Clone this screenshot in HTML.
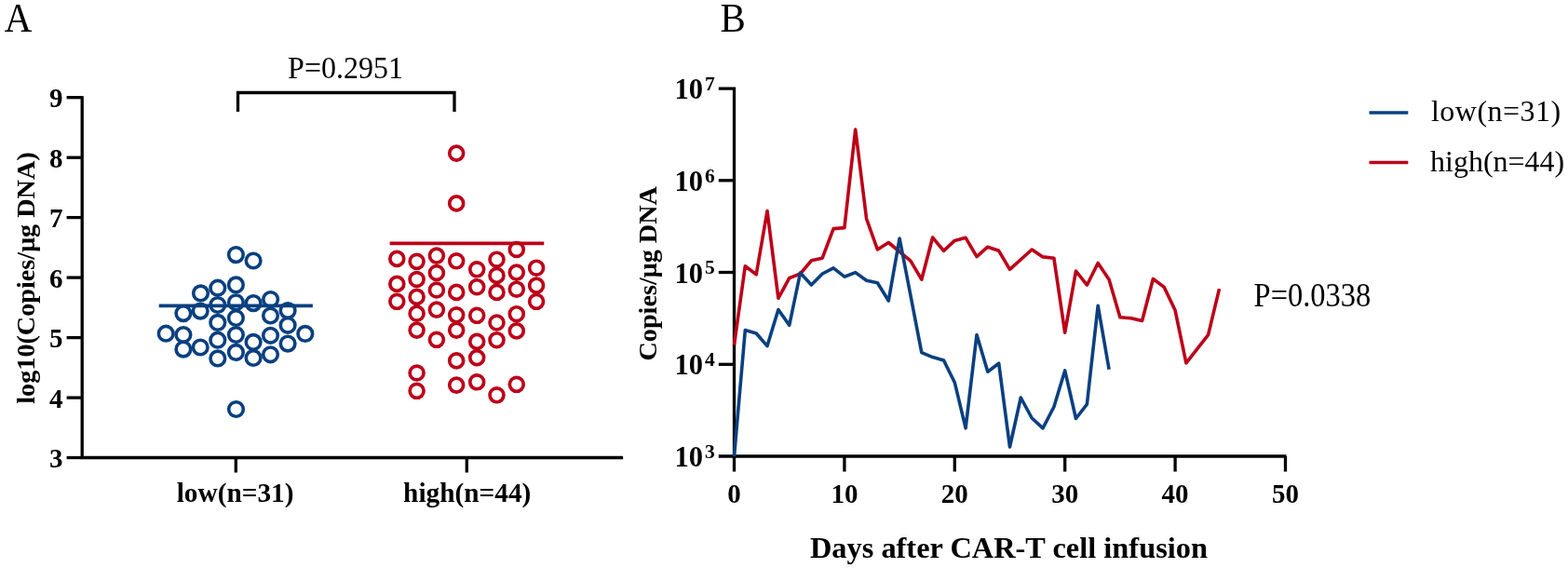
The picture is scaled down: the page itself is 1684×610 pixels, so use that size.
<!DOCTYPE html>
<html><head><meta charset="utf-8"><title>Figure</title>
<style>html,body{margin:0;padding:0;background:#fff;}svg{display:block;}text{font-family:"Liberation Serif","Times New Roman",serif;fill:#000;}.b{font-weight:bold;}</style></head><body>
<svg width="1684" height="610" viewBox="0 0 1684 610">
<rect width="1684" height="610" fill="#fff"/>
<text transform="translate(4.8,33.6) scale(1,1.08)" font-size="41">A</text>
<text transform="translate(773.4,33.6) scale(1,1.06)" font-size="41">B</text>
<g stroke="#000" stroke-width="3.3" fill="none" stroke-linecap="butt">
<path d="M88.2,103.2 V491.5 H669.1"/>
<path d="M71.6,104.7 H88.2"/>
<path d="M71.6,169.2 H88.2"/>
<path d="M71.6,233.6 H88.2"/>
<path d="M71.6,298.1 H88.2"/>
<path d="M71.6,362.6 H88.2"/>
<path d="M71.6,427.1 H88.2"/>
<path d="M71.6,491.5 H88.2"/>
<path d="M253.3,491.5 V507.5 M501.3,491.5 V507.5"/>
<path d="M255.5,120 V99.5 H488 V120"/>
</g>
<text class="b" x="67.5" y="115.2" font-size="29" text-anchor="end">9</text>
<text class="b" x="67.5" y="179.7" font-size="29" text-anchor="end">8</text>
<text class="b" x="67.5" y="244.1" font-size="29" text-anchor="end">7</text>
<text class="b" x="67.5" y="308.6" font-size="29" text-anchor="end">6</text>
<text class="b" x="67.5" y="373.1" font-size="29" text-anchor="end">5</text>
<text class="b" x="67.5" y="437.6" font-size="29" text-anchor="end">4</text>
<text class="b" x="67.5" y="502.0" font-size="29" text-anchor="end">3</text>
<text class="b" font-size="28.2" text-anchor="middle" transform="translate(36.5,298.5) rotate(-90)">log10(Copies/μg DNA)</text>
<text class="b" x="252.6" y="538.6" font-size="29.3" text-anchor="middle">low(n=31)</text>
<text class="b" x="501.7" y="538.6" font-size="29.3" text-anchor="middle">high(n=44)</text>
<text transform="translate(309.1,83.5) scale(1,1.07)" font-size="32">P=0.2951</text>
<path d="M170.7,328.3 H335.9" stroke="#0a4080" stroke-width="3.7"/>
<path d="M418.6,261.4 H584.3" stroke="#bc0019" stroke-width="3.7"/>
<g fill="none" stroke="#0a4080" stroke-width="3.6">
<circle cx="178.2" cy="358.2" r="7.8"/>
<circle cx="196.9" cy="336.6" r="7.8"/>
<circle cx="196.9" cy="359.5" r="7.8"/>
<circle cx="196.9" cy="375.1" r="7.8"/>
<circle cx="215.5" cy="314.9" r="7.8"/>
<circle cx="215.2" cy="334.1" r="7.8"/>
<circle cx="215.2" cy="373.0" r="7.8"/>
<circle cx="233.8" cy="309.2" r="7.8"/>
<circle cx="233.8" cy="327.5" r="7.8"/>
<circle cx="233.8" cy="346.4" r="7.8"/>
<circle cx="233.8" cy="365.2" r="7.8"/>
<circle cx="233.8" cy="384.9" r="7.8"/>
<circle cx="253.4" cy="273.6" r="7.8"/>
<circle cx="253.4" cy="305.9" r="7.8"/>
<circle cx="253.4" cy="324.8" r="7.8"/>
<circle cx="253.4" cy="341.5" r="7.8"/>
<circle cx="253.4" cy="359.5" r="7.8"/>
<circle cx="253.4" cy="378.4" r="7.8"/>
<circle cx="253.5" cy="439.5" r="7.8"/>
<circle cx="272.1" cy="280.0" r="7.8"/>
<circle cx="272.1" cy="325.6" r="7.8"/>
<circle cx="272.1" cy="367.4" r="7.8"/>
<circle cx="272.1" cy="384.4" r="7.8"/>
<circle cx="290.6" cy="321.5" r="7.8"/>
<circle cx="290.5" cy="339.0" r="7.8"/>
<circle cx="290.5" cy="360.3" r="7.8"/>
<circle cx="290.5" cy="380.8" r="7.8"/>
<circle cx="309.1" cy="333.6" r="7.8"/>
<circle cx="309.1" cy="349.3" r="7.8"/>
<circle cx="309.1" cy="369.1" r="7.8"/>
<circle cx="327.8" cy="358.4" r="7.8"/>
</g>
<g fill="none" stroke="#bc0019" stroke-width="3.7">
<circle cx="426.3" cy="277.9" r="7.45"/>
<circle cx="426.3" cy="304.9" r="7.45"/>
<circle cx="426.3" cy="323.8" r="7.45"/>
<circle cx="447.6" cy="280.8" r="7.45"/>
<circle cx="447.6" cy="300.0" r="7.45"/>
<circle cx="447.6" cy="318.9" r="7.45"/>
<circle cx="447.6" cy="336.7" r="7.45"/>
<circle cx="447.6" cy="354.6" r="7.45"/>
<circle cx="447.6" cy="400.5" r="7.45"/>
<circle cx="447.6" cy="419.8" r="7.45"/>
<circle cx="468.9" cy="274.6" r="7.45"/>
<circle cx="468.9" cy="293.0" r="7.45"/>
<circle cx="468.9" cy="311.5" r="7.45"/>
<circle cx="468.9" cy="332.6" r="7.45"/>
<circle cx="468.9" cy="364.8" r="7.45"/>
<circle cx="490.2" cy="164.6" r="7.45"/>
<circle cx="490.2" cy="218.4" r="7.45"/>
<circle cx="490.2" cy="280.3" r="7.45"/>
<circle cx="490.2" cy="313.9" r="7.45"/>
<circle cx="490.2" cy="338.3" r="7.45"/>
<circle cx="490.2" cy="354.6" r="7.45"/>
<circle cx="490.2" cy="387.4" r="7.45"/>
<circle cx="490.2" cy="413.6" r="7.45"/>
<circle cx="512.2" cy="289.3" r="7.45"/>
<circle cx="512.2" cy="308.2" r="7.45"/>
<circle cx="512.2" cy="338.8" r="7.45"/>
<circle cx="512.2" cy="366.9" r="7.45"/>
<circle cx="512.2" cy="384.1" r="7.45"/>
<circle cx="512.2" cy="410.3" r="7.45"/>
<circle cx="533.5" cy="278.7" r="7.45"/>
<circle cx="533.5" cy="295.9" r="7.45"/>
<circle cx="533.5" cy="313.9" r="7.45"/>
<circle cx="533.5" cy="346.5" r="7.45"/>
<circle cx="533.5" cy="365.2" r="7.45"/>
<circle cx="533.5" cy="424.3" r="7.45"/>
<circle cx="554.8" cy="268.0" r="7.45"/>
<circle cx="554.8" cy="292.6" r="7.45"/>
<circle cx="554.8" cy="310.7" r="7.45"/>
<circle cx="554.8" cy="337.2" r="7.45"/>
<circle cx="554.8" cy="355.4" r="7.45"/>
<circle cx="554.8" cy="412.8" r="7.45"/>
<circle cx="576.1" cy="287.7" r="7.45"/>
<circle cx="576.1" cy="306.6" r="7.45"/>
<circle cx="576.1" cy="323.8" r="7.45"/>
</g>
<g stroke="#000" stroke-width="3.3" fill="none">
<path d="M771.8,95.1 H788.5 V506.5"/>
<path d="M771.8,490 H1381.5"/>
<path d="M771.8,193.8 H788.5"/>
<path d="M771.8,292.5 H788.5"/>
<path d="M771.8,391.3 H788.5"/>
<path d="M906.9,490 V506.5"/>
<path d="M1025.3,490 V506.5"/>
<path d="M1143.7,490 V506.5"/>
<path d="M1262.1,490 V506.5"/>
<path d="M1380.5,490 V506.5"/>
</g>
<text class="b" x="755.0" y="106.1" font-size="30.5" text-anchor="end">10</text>
<text class="b" x="757" y="96.9" font-size="21.5">7</text>
<text class="b" x="755.0" y="204.8" font-size="30.5" text-anchor="end">10</text>
<text class="b" x="757" y="195.6" font-size="21.5">6</text>
<text class="b" x="755.0" y="303.5" font-size="30.5" text-anchor="end">10</text>
<text class="b" x="757" y="294.3" font-size="21.5">5</text>
<text class="b" x="755.0" y="402.3" font-size="30.5" text-anchor="end">10</text>
<text class="b" x="757" y="393.1" font-size="21.5">4</text>
<text class="b" x="755.0" y="501.0" font-size="30.5" text-anchor="end">10</text>
<text class="b" x="757" y="491.8" font-size="21.5">3</text>
<text class="b" x="788.5" y="539.6" font-size="29" text-anchor="middle">0</text>
<text class="b" x="906.9" y="539.6" font-size="29" text-anchor="middle">10</text>
<text class="b" x="1025.3" y="539.6" font-size="29" text-anchor="middle">20</text>
<text class="b" x="1143.7" y="539.6" font-size="29" text-anchor="middle">30</text>
<text class="b" x="1262.1" y="539.6" font-size="29" text-anchor="middle">40</text>
<text class="b" x="1380.5" y="539.6" font-size="29" text-anchor="middle">50</text>
<text class="b" font-size="28.2" text-anchor="middle" transform="translate(705,293.8) rotate(-90)">Copies/μg DNA</text>
<text class="b" x="869.9" y="598.7" font-size="32.4">Days after CAR-T cell infusion</text>
<polyline fill="none" stroke="#bc0019" stroke-width="3.6" stroke-linejoin="round" points="788.5,370.4 800.3,285.8 812.2,294.8 824.0,226.6 835.9,320.3 847.7,298.7 859.5,294.0 871.4,279.8 883.2,277.2 895.1,245.6 906.9,244.6 918.7,139.1 930.6,235.0 942.4,268.0 954.3,260.5 977.9,280.2 989.8,300.2 1001.6,255.0 1013.5,269.4 1025.3,258.4 1037.1,255.3 1049.0,275.6 1060.8,265.2 1072.7,269.3 1084.5,289.3 1108.2,268.0 1120.0,275.9 1131.9,277.2 1143.7,357.2 1155.5,291.0 1167.4,306.2 1179.2,282.5 1191.1,300.3 1202.9,340.8 1214.7,341.8 1226.6,344.5 1238.4,299.5 1250.3,308.4 1262.1,333.3 1273.9,389.8 1297.6,359.6 1309.5,310.2"/>
<polyline fill="none" stroke="#0a4080" stroke-width="3.6" stroke-linejoin="round" points="788.5,490.0 800.3,354.6 812.2,358.0 824.0,371.6 835.9,332.5 847.7,349.3 859.5,293.0 871.4,306.0 883.2,294.0 895.1,287.9 906.9,297.2 918.7,292.6 930.6,301.2 942.4,303.7 954.3,323.0 966.1,256.0 989.8,378.6 1001.6,383.6 1013.5,386.9 1025.3,410.7 1037.1,459.8 1049.0,359.5 1060.8,399.2 1072.7,390.2 1084.5,480.0 1096.3,427.0 1108.2,449.0 1120.0,459.8 1131.9,437.0 1143.7,397.9 1155.5,449.5 1167.4,434.1 1179.2,328.3 1191.1,396.8"/>
<path d="M1470.5,121.0 H1512.3" stroke="#0a4080" stroke-width="3.6"/>
<path d="M1470.5,174.5 H1512.3" stroke="#bc0019" stroke-width="3.6"/>
<text x="1536.9" y="130" font-size="32" letter-spacing="0.5">low(n=31)</text>
<text x="1536" y="183.8" font-size="32">high(n=44)</text>
<text transform="translate(1346.6,328.8) scale(1,1.07)" font-size="32.5">P=0.0338</text>
</svg></body></html>
